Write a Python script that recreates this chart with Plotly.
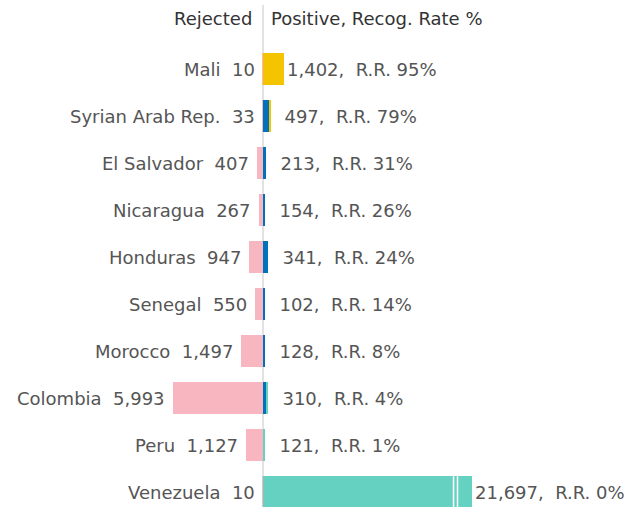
import plotly.graph_objects as go

countries = ["Mali", "Syrian Arab Rep.", "El Salvador", "Nicaragua", "Honduras",
             "Senegal", "Morocco", "Colombia", "Peru", "Venezuela"]
rejected = [10, 33, 407, 267, 947, 550, 1497, 5993, 1127, 10]
positive = [1402, 497, 213, 154, 341, 102, 128, 310, 121, 21697]
recog_rate = [95, 79, 31, 26, 24, 14, 8, 4, 1, 0]
# split of positive decisions (estimated from bar segments)
refugee_status = [0, 419, 213, 154, 341, 102, 128, 252, 12, 0]
subsidiary = [1402, 78, 0, 0, 0, 0, 0, 0, 0, 0]
humanitarian = [0, 0, 0, 0, 0, 0, 0, 58, 109, 21697]

CAP = 13930  # display cap for the broken (truncated) bar

NB = "\u00a0"
PINK = "#F7B6C0"
BLUE = "#0072BC"
YELLOW = "#F5C400"
TEAL = "#65D1C0"
TXT = "#555555"
FONT = "DejaVu Sans"
FS = 18

ys = list(range(len(countries)))

hum_disp = []
for i in ys:
    base = refugee_status[i] + subsidiary[i]
    hum_disp.append(max(0, min(humanitarian[i], CAP - base)))

fig = go.Figure()
W = 0.67
fig.add_bar(y=ys, x=[-v for v in rejected], orientation="h", marker_color=PINK,
            marker_line_width=0, width=W, hoverinfo="skip")
fig.add_bar(y=ys, x=refugee_status, orientation="h", marker_color=BLUE,
            marker_line_width=0, width=W, hoverinfo="skip")
fig.add_bar(y=ys, x=subsidiary, orientation="h", marker_color=YELLOW,
            marker_line_width=0, width=W, hoverinfo="skip")
fig.add_bar(y=ys, x=hum_disp, orientation="h", marker_color=TEAL,
            marker_line_width=0, width=W, hoverinfo="skip")

annotations = []
for i in ys:
    annotations.append(dict(
        x=-rejected[i], y=i, xref="x", yref="y",
        text=f"{countries[i]}{NB}{NB}{rejected[i]:,}",
        showarrow=False, xanchor="right", xshift=-6,
        font=dict(family=FONT, size=FS, color=TXT)))
    total_disp = refugee_status[i] + subsidiary[i] + hum_disp[i]
    num = f"{positive[i]:,}"
    num = NB * max(0, 5 - len(num)) + num
    annotations.append(dict(
        x=total_disp, y=i, xref="x", yref="y",
        text=f"{num},{NB}{NB}R.R.{NB}{recog_rate[i]}%",
        showarrow=False, xanchor="left", xshift=1,
        font=dict(family=FONT, size=FS, color=TXT)))

annotations.append(dict(x=0, y=-1.085, xref="x", yref="y", text="Rejected",
                        showarrow=False, xanchor="right", xshift=-9,
                        font=dict(family=FONT, size=FS, color="#333333")))
annotations.append(dict(x=0, y=-1.085, xref="x", yref="y", text="Positive, Recog. Rate %",
                        showarrow=False, xanchor="left", xshift=6,
                        font=dict(family=FONT, size=FS, color="#333333")))

shapes = [dict(type="line", xref="x", yref="paper", x0=0, x1=0, y0=0, y1=0.99,
               line=dict(color="#D9D9D9", width=1.5), layer="below")]
vi = countries.index("Venezuela")
for bx in (CAP * 0.911, CAP * 0.930):
    shapes.append(dict(type="line", xref="x", yref="y", x0=bx, x1=bx,
                       y0=vi - W / 2, y1=vi + W / 2,
                       line=dict(color="white", width=1.5)))

fig.update_layout(
    width=626, height=507, barmode="relative", bargap=0,
    margin=dict(l=0, r=0, t=0, b=0),
    plot_bgcolor="white", paper_bgcolor="white",
    showlegend=False,
    xaxis=dict(range=[-17516, 24176], visible=False, fixedrange=True),
    yaxis=dict(range=[9.319, -1.468], visible=False, fixedrange=True),
    annotations=annotations, shapes=shapes,
    font=dict(family=FONT),
)

fig.write_html(
    "out.html",
    config={"displayModeBar": False},
    post_script="document.body.style.margin='0';document.body.style.overflow='hidden';",
)
